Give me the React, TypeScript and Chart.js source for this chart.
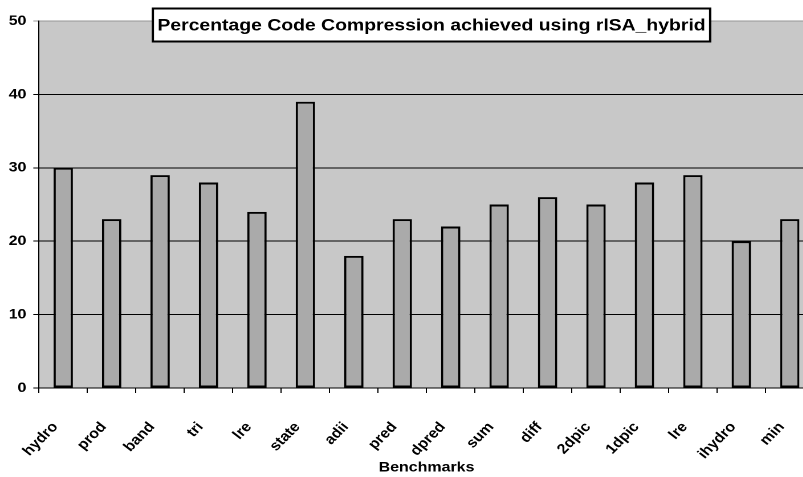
import React, { useEffect, useRef } from 'react';
import { Chart, registerables } from 'chart.js';

Chart.register(...registerables);

// Benchmarks and the percentage of code compression for each
const benchmarks = ['hydro', 'prod', 'band', 'tri', 'lre', 'state', 'adii', 'pred', 'dpred', 'sum', 'diff', '2dpic', '1dpic', 'lre', 'ihydro', 'min'];
const compression = [30, 23, 29, 28, 24, 39, 18, 23, 22, 25, 26, 25, 28, 29, 20, 23];
const yTicks = [0, 10, 20, 30, 40, 50];
const chartTitle = 'Percentage Code Compression achieved using rlSA_hybrid';
const xAxisTitle = 'Benchmarks';

// The chart is drawn narrower and stretched horizontally, giving the wide lettering
const STRETCH = 1.14;
const CANVAS_W = 716;
const CANVAS_H = 477;
const FONT = '"Liberation Sans", Arial, Helvetica, sans-serif';
// label angle that reads as 45 degrees once stretched
const LABEL_ROTATION = (Math.atan(STRETCH) * 180) / Math.PI;

const plotBackground = {
  id: 'plotBackground',
  beforeDraw(chart: any) {
    const { ctx, chartArea: a } = chart;
    ctx.save();
    ctx.fillStyle = '#c8c8c8';
    ctx.fillRect(a.left, a.top, a.right - a.left, a.bottom - a.top);
    ctx.restore();
  },
};

const titleBox = {
  id: 'titleBox',
  afterDraw(chart: any) {
    const ctx = chart.ctx;
    ctx.save();
    ctx.font = `bold 17px ${FONT}`;
    const tw = ctx.measureText(chartTitle).width;
    const cx = 378.5;
    const cy = 25;
    const bw = tw + 8;
    const bh = 33;
    ctx.fillStyle = '#ffffff';
    ctx.fillRect(cx - bw / 2, cy - bh / 2, bw, bh);
    ctx.strokeStyle = '#000000';
    ctx.lineWidth = 2;
    ctx.strokeRect(cx - bw / 2, cy - bh / 2, bw, bh);
    ctx.fillStyle = '#000000';
    ctx.textAlign = 'center';
    ctx.textBaseline = 'middle';
    ctx.fillText(chartTitle, cx, cy + 1);
    ctx.restore();
  },
};

export default function App() {
  const canvasRef = useRef<HTMLCanvasElement | null>(null);

  useEffect(() => {
    if (!canvasRef.current) return;
    const chart = new Chart(canvasRef.current, {
      type: 'bar',
      data: {
        labels: benchmarks,
        datasets: [
          {
            label: 'Code compression (%)',
            data: compression,
            backgroundColor: '#aaaaaa',
            borderColor: '#000000',
            borderWidth: 2,
            borderSkipped: false,
            categoryPercentage: 1,
            barPercentage: 0.4,
          },
        ],
      },
      options: {
        responsive: false,
        animation: false,
        devicePixelRatio: 2,
        layout: { padding: { top: 21, right: 2, left: 0, bottom: 0 } },
        plugins: {
          legend: { display: false },
          title: { display: false },
          tooltip: { enabled: false },
        },
        scales: {
          x: {
            offset: true,
            afterFit: (s: any) => {
              s.height = 89;
              s.paddingLeft = 0;
              s.paddingRight = 0;
            },
            grid: {
              display: true,
              drawOnChartArea: false,
              drawTicks: true,
              tickLength: 5,
              color: '#000000',
              offset: true,
            },
            border: { display: true, color: '#000000', width: 1 },
            ticks: {
              autoSkip: false,
              minRotation: LABEL_ROTATION,
              maxRotation: LABEL_ROTATION,
              padding: 26,
              labelOffset: -7,
              color: '#000000',
              font: { family: FONT, size: 14, weight: 'bold' },
            },
            title: {
              display: true,
              text: xAxisTitle,
              color: '#000000',
              font: { family: FONT, size: 14, weight: 'bold' },
              padding: { top: 4, bottom: 1 },
            },
          },
          y: {
            min: yTicks[0],
            max: yTicks[yTicks.length - 1],
            afterFit: (s: any) => {
              s.width = 34.2;
            },
            afterBuildTicks: (s: any) => {
              s.ticks = yTicks.map((v) => ({ value: v }));
            },
            grid: {
              color: (c: any) => (c.tick && c.tick.value === yTicks[yTicks.length - 1] ? '#969696' : '#000000'),
              lineWidth: 1,
              drawTicks: true,
              tickLength: 5,
            },
            border: { display: true, color: '#000000', width: 1 },
            ticks: {
              padding: 6,
              color: '#000000',
              font: { family: FONT, size: 14, weight: 'bold' },
            },
          },
        },
      },
      plugins: [plotBackground, titleBox],
    });
    return () => chart.destroy();
  }, []);

  return (
    <div style={{ position: 'fixed', left: 0, top: 0, width: 803, height: 477, overflow: 'hidden', background: '#ffffff' }}>
      <div style={{ width: CANVAS_W, height: CANVAS_H, transform: `scaleX(${STRETCH})`, transformOrigin: '0 0' }}>
        <canvas ref={canvasRef} width={CANVAS_W} height={CANVAS_H} style={{ width: CANVAS_W, height: CANVAS_H, display: 'block' }} />
      </div>
    </div>
  );
}
